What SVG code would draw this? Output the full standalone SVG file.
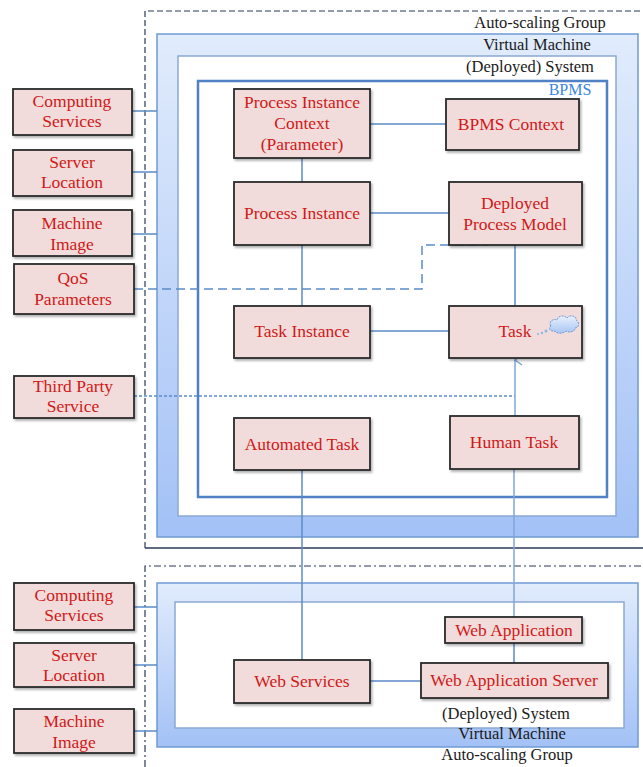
<svg xmlns="http://www.w3.org/2000/svg" width="643" height="767" viewBox="0 0 643 767">
<style>
.node rect{fill:#f2dcdb;stroke:#2b2b2b;stroke-width:1.8;filter:url(#sh)}
.node text,.t{font-family:"Liberation Serif","Times New Roman",serif;font-size:17.5px;fill:#d01818;text-anchor:middle}
.lbl{font-family:"Liberation Serif","Times New Roman",serif;font-size:16.5px;fill:#1a1a1a;text-anchor:middle}
.conn line,.conn path{stroke:#5b8bc9;stroke-width:1.5;fill:none}
.vm{fill:url(#vmg);stroke:#6f9bd4;stroke-width:1.5}
.sys{fill:#fff;stroke:#8aa9d4;stroke-width:1.5}
</style>
<defs>
<linearGradient id="vmg" x1="0" y1="0" x2="0" y2="1">
<stop offset="0" stop-color="#e1ecfc"/>
<stop offset="1" stop-color="#a3c1f6"/>
</linearGradient>
<linearGradient id="cg" x1="0" y1="0" x2="0" y2="1">
<stop offset="0" stop-color="#e8f0fd"/>
<stop offset="1" stop-color="#a9c6f3"/>
</linearGradient>
<filter id="sh" x="-10%" y="-10%" width="125%" height="130%">
<feDropShadow dx="1.5" dy="2" stdDeviation="1.2" flood-color="#000" flood-opacity="0.3"/>
</filter>
<marker id="open" markerWidth="12" markerHeight="12" refX="6" refY="1" orient="auto" markerUnits="userSpaceOnUse" viewBox="0 0 12 12">
<path d="M1,8 L6,1 L11,8" fill="none" stroke="#7fa6da" stroke-width="1.5"/>
</marker>
</defs>

<g id="groups">
<!-- upper auto-scaling group -->
<path d="M145,548 L145,11 L650,11" fill="none" stroke="#2a3a55" stroke-width="1.2" stroke-dasharray="6,3"/>
<line x1="145" y1="548" x2="643" y2="548" stroke="#2a3a55" stroke-width="1.3"/>
<text class="lbl" x="540" y="28">Auto-scaling Group</text>
<rect class="vm" x="157" y="34" width="481" height="503"/>
<text class="lbl" x="537" y="50">Virtual Machine</text>
<rect class="sys" x="178" y="56" width="438" height="460"/>
<text class="lbl" x="530" y="72">(Deployed) System</text>
<rect x="198" y="81" width="409" height="416" fill="#fff" stroke="#4f81c4" stroke-width="2.5"/>
<text x="570" y="95" font-family="Liberation Serif, serif" font-size="16" fill="#3a86e0" text-anchor="middle">BPMS</text>

<!-- lower auto-scaling group -->
<path d="M145,767 L145,566 L650,566" fill="none" stroke="#2a3a55" stroke-width="1.2" stroke-dasharray="7,3,2,3"/>
<rect class="vm" x="157" y="583" width="481" height="164"/>
<rect class="sys" x="175" y="602" width="449" height="126"/>
<text class="lbl" x="506" y="719">(Deployed) System</text>
<text class="lbl" x="512" y="739">Virtual Machine</text>
<text class="lbl" x="507" y="760">Auto-scaling Group</text>
</g>

<g id="connectors" class="conn">
<line x1="132" y1="111" x2="157" y2="111"/>
<line x1="132" y1="172" x2="157" y2="172"/>
<line x1="132" y1="234" x2="157" y2="234"/>
<path d="M134,289 L422,289 L422,245 L488,245" stroke-dasharray="9,5"/>
<line x1="134" y1="396" x2="515" y2="396" stroke-dasharray="3,2"/>
<line x1="302" y1="158" x2="302" y2="182"/>
<line x1="302" y1="245" x2="302" y2="306"/>
<line x1="370" y1="124" x2="446" y2="124"/>
<line x1="370" y1="213" x2="449" y2="213"/>
<line x1="515" y1="245" x2="515" y2="306"/>
<line x1="370" y1="331" x2="449" y2="331"/>
<line x1="515" y1="416" x2="515" y2="360" style="stroke:#7fa6da" marker-end="url(#open)"/>
<line x1="514" y1="469" x2="514" y2="617" style="stroke:#7fa6da"/>
<line x1="302" y1="470" x2="302" y2="660"/>
<line x1="514" y1="643" x2="514" y2="663"/>
<line x1="370" y1="681" x2="421" y2="681"/>
<line x1="134" y1="607" x2="157" y2="607"/>
<line x1="134" y1="665" x2="157" y2="665"/>
<line x1="134" y1="731" x2="157" y2="731"/>
</g>

<g id="computing-services-top" class="node"><rect x="13" y="89" width="119" height="46"/><text x="72" y="107">Computing</text><text x="72" y="127">Services</text></g>
<g id="server-location-top" class="node"><rect x="13" y="150" width="119" height="46"/><text x="72" y="168">Server</text><text x="72" y="188">Location</text></g>
<g id="machine-image-top" class="node"><rect x="13" y="210" width="119" height="46"/><text x="72" y="229">Machine</text><text x="72" y="250">Image</text></g>
<g id="qos-parameters" class="node"><rect x="14" y="264" width="120" height="50"/><text x="73" y="284">QoS</text><text x="73" y="305">Parameters</text></g>
<g id="third-party-service" class="node"><rect x="14" y="376" width="120" height="42"/><text x="73" y="392">Third Party</text><text x="73" y="412">Service</text></g>

<g id="process-instance-context" class="node"><rect x="234" y="89" width="136" height="69"/><text x="302" y="108">Process Instance</text><text x="302" y="129">Context</text><text x="302" y="150">(Parameter)</text></g>
<g id="bpms-context" class="node"><rect x="446" y="99" width="133" height="51"/><text x="511" y="130">BPMS Context</text></g>
<g id="process-instance" class="node"><rect x="234" y="182" width="136" height="63"/><text x="302" y="219">Process Instance</text></g>
<g id="deployed-process-model" class="node"><rect x="449" y="182" width="133" height="63"/><text x="515" y="209">Deployed</text><text x="515" y="230">Process Model</text></g>
<g id="task-instance" class="node"><rect x="234" y="306" width="136" height="52"/><text x="302" y="337">Task Instance</text></g>
<g id="task" class="node"><rect x="449" y="306" width="133" height="52"/><text x="515" y="337">Task</text>
<g id="cloud">
<circle cx="538" cy="334" r="1" fill="#8fb2e6"/>
<circle cx="542" cy="333" r="1.2" fill="#8fb2e6"/>
<circle cx="546" cy="331" r="1.5" fill="#8fb2e6"/>
<path d="M551,326 C548,322 553,318 557,320 C558,315 565,315 567,318 C570,314 577,316 576,320 C580,322 579,328 575,328 C575,332 569,333 566,331 C563,334 556,334 555,331 C550,332 548,328 551,326 Z" fill="url(#cg)" stroke="#6f9bd4" stroke-width="1" stroke-dasharray="2,1"/>
</g>
</g>
<g id="automated-task" class="node"><rect x="234" y="418" width="136" height="52"/><text x="302" y="450">Automated Task</text></g>
<g id="human-task" class="node"><rect x="450" y="416" width="129" height="53"/><text x="514" y="448">Human Task</text></g>

<g id="computing-services-bottom" class="node"><rect x="14" y="583" width="120" height="47"/><text x="74" y="601">Computing</text><text x="74" y="621">Services</text></g>
<g id="server-location-bottom" class="node"><rect x="14" y="643" width="120" height="44"/><text x="74" y="661">Server</text><text x="74" y="681">Location</text></g>
<g id="machine-image-bottom" class="node"><rect x="14" y="709" width="120" height="44"/><text x="74" y="727">Machine</text><text x="74" y="748">Image</text></g>
<g id="web-services" class="node"><rect x="234" y="660" width="136" height="43"/><text x="302" y="687">Web Services</text></g>
<g id="web-application" class="node"><rect x="445" y="617" width="137" height="26"/><text x="514" y="636">Web Application</text></g>
<g id="web-application-server" class="node"><rect x="421" y="663" width="187" height="35"/><text x="514" y="686">Web Application Server</text></g>
</svg>
